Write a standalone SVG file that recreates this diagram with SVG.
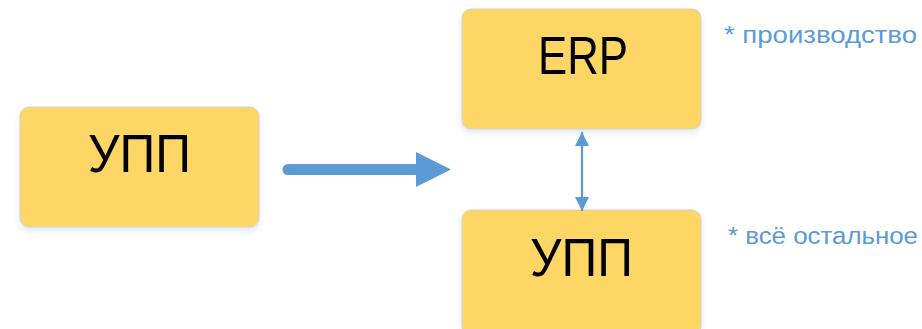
<svg xmlns="http://www.w3.org/2000/svg" width="922" height="329" viewBox="0 0 922 329">
<style>
.box{fill:#FDD666;stroke:#D9D4C4;stroke-width:1}
.lbl{font-family:"Liberation Sans","DejaVu Sans",sans-serif;font-size:54px;fill:#000;text-anchor:middle}
.note{font-family:"Liberation Sans","DejaVu Sans",sans-serif;font-size:23px;fill:#5B9BD5}
</style>
<defs>
<filter id="sh" x="-10%" y="-10%" width="120%" height="130%">
<feDropShadow dx="0" dy="3" stdDeviation="3" flood-color="#9DB8DA" flood-opacity="0.35"/>
</filter>
<marker id="ah" viewBox="0 0 10 10" refX="10" refY="5" markerWidth="14" markerHeight="14" markerUnits="userSpaceOnUse" orient="auto-start-reverse">
<path d="M0,0 L10,5 L0,10 z" fill="#5B9BD5"/>
</marker>
</defs>
<g id="node-upp-left">
<rect class="box" x="20" y="107" width="239" height="120" rx="9" filter="url(#sh)"/>
<text class="lbl" x="139.5" y="172" textLength="103" lengthAdjust="spacingAndGlyphs">УПП</text>
</g>
<g id="node-erp">
<rect class="box" x="462" y="9" width="239" height="120" rx="9" filter="url(#sh)"/>
<text class="lbl" x="583" y="74" textLength="90" lengthAdjust="spacingAndGlyphs">ERP</text>
</g>
<g id="node-upp-right">
<rect class="box" x="462" y="210" width="239" height="125" rx="9" filter="url(#sh)"/>
<text class="lbl" x="581.5" y="276" textLength="103" lengthAdjust="spacingAndGlyphs">УПП</text>
</g>
<g id="connectors">
<line x1="288" y1="169.5" x2="418" y2="169.5" stroke="#5B9BD5" stroke-width="11" stroke-linecap="round"/>
<polygon points="416,152 451,169.5 416,187" fill="#5B9BD5"/>
<line x1="582" y1="132" x2="582" y2="211" stroke="#5B9BD5" stroke-width="2.2" marker-start="url(#ah)" marker-end="url(#ah)"/>
</g>
<g id="notes">
<text class="note" x="724" y="43" textLength="193" lengthAdjust="spacingAndGlyphs">* производство</text>
<text class="note" x="728" y="244" textLength="190" lengthAdjust="spacingAndGlyphs">* всё остальное</text>
</g>
</svg>
